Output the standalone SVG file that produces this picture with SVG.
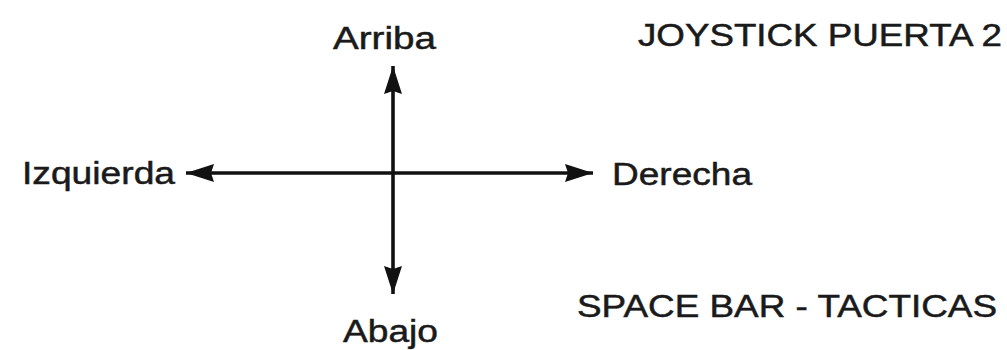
<svg xmlns="http://www.w3.org/2000/svg" width="1007" height="350" viewBox="0 0 1007 350">
<style>
.t{font-family:"Liberation Sans",Arial,sans-serif;font-size:31px;fill:#1a1a1a;stroke:#1a1a1a;stroke-width:0.5}
.ax{stroke:#111;stroke-width:3.6;fill:none}
</style>
<defs>
<marker id="ah" viewBox="0 0 28 18" refX="28" refY="9" markerWidth="28" markerHeight="18" markerUnits="userSpaceOnUse" orient="auto">
<path d="M0,0 L28,9 L0,18 L3,9 Z" fill="#111"/>
</marker>
</defs>
<rect width="1007" height="350" fill="#fff"/>
<g id="connectors">
<line class="ax" x1="393" y1="173" x2="393" y2="66" marker-end="url(#ah)"/>
<line class="ax" x1="393" y1="173" x2="393" y2="294" marker-end="url(#ah)"/>
<line class="ax" x1="393" y1="173" x2="186" y2="173" marker-end="url(#ah)"/>
<line class="ax" x1="393" y1="173" x2="593" y2="173" marker-end="url(#ah)"/>
</g>
<g id="arriba"><text class="t" x="333" y="49" textLength="103" lengthAdjust="spacingAndGlyphs">Arriba</text></g>
<g id="izquierda"><text class="t" x="22" y="184" textLength="153" lengthAdjust="spacingAndGlyphs">Izquierda</text></g>
<g id="derecha"><text class="t" x="612" y="185" textLength="140" lengthAdjust="spacingAndGlyphs">Derecha</text></g>
<g id="abajo"><text class="t" x="343" y="342" textLength="95" lengthAdjust="spacingAndGlyphs">Abajo</text></g>
<g id="joystick"><text class="t" x="638" y="46" textLength="364" lengthAdjust="spacingAndGlyphs">JOYSTICK PUERTA 2</text></g>
<g id="spacebar"><text class="t" x="577" y="317" textLength="420" lengthAdjust="spacingAndGlyphs">SPACE BAR - TACTICAS</text></g>
</svg>
